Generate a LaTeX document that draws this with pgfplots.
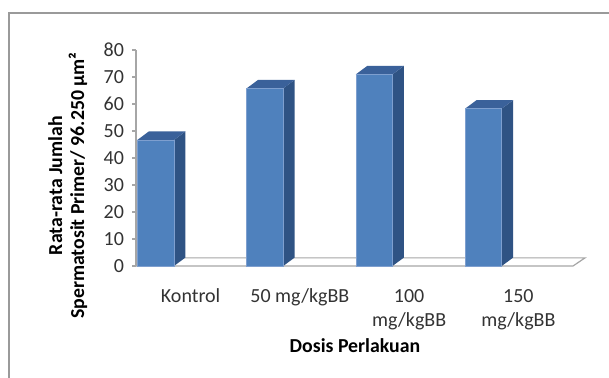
\documentclass[border=0pt]{standalone}
\usepackage{fontspec}
\setmainfont{Carlito}
\usepackage{pgfplots}
\pgfplotsset{compat=1.18}
\definecolor{barfront}{HTML}{4F81BD}
\definecolor{bartop}{HTML}{3A619A}
\definecolor{barside}{HTML}{2F5384}
\definecolor{baredge}{HTML}{7E9FCF}
\definecolor{gridgray}{HTML}{A6A6A6}
\definecolor{framegray}{HTML}{9A9A9A}
\begin{document}
\begin{tikzpicture}
\path[use as bounding box] (0,0) rectangle (304.5pt,189pt);
% chart frame (cropped at right and bottom)
\draw[framegray, line width=0.9pt] (4.5pt,0) -- (4.5pt,182.5pt) -- (305pt,182.5pt);
\begin{axis}[
  scale only axis,
  width=218.5pt, height=108pt,
  at={(68pt,56pt)}, anchor=south west,
  xmin=0, xmax=4, ymin=0, ymax=80,
  clip=false,
  axis x line*=bottom, axis y line*=left,
  x axis line style={draw=none},
  y axis line style={gridgray, line width=0.6pt},
  xtick={0.5,1.5,2.5,3.5},
  xticklabels={Kontrol,50 mg/kgBB,100\\mg/kgBB,150\\mg/kgBB},
  xtick style={draw=none},
  ytick={0,10,...,80},
  ytick style={gridgray, line width=0.6pt},
  tick align=outside,
  major tick length=2pt,
  /pgf/number format/assume math mode=true,
  ticklabel style={font=\fontsize{10}{12.2}\selectfont, text=black!80},
  xticklabel style={align=center, yshift=-6pt},
  yticklabel style={xshift=-0.5pt},
  ylabel={Rata-rata Jumlah\\Spermatosit Primer/ 96.250 µm²},
  ylabel style={font=\bfseries\fontsize{9.9}{11}\selectfont, align=center,
    at={(axis description cs:-0.156,0.372)}, anchor=center},
  xlabel={Dosis Perlakuan},
  xlabel style={font=\bfseries\fontsize{9.9}{11.8}\selectfont,
    at={(axis description cs:0.501,-0.402)}, anchor=base},
]
% floor
\addplot[fill=white, draw=gridgray, line width=0.6pt] coordinates {(0,0) (4,0) (4.11,3.0) (0.11,3.0)} -- cycle;
% bar 1 (Kontrol) value 46.7
\addplot[fill=barside, draw=none] coordinates {(0.348,0) (0.453,3.15) (0.453,49.85) (0.348,46.7)} -- cycle;
\addplot[fill=bartop, draw=none] coordinates {(0.013,46.7) (0.348,46.7) (0.453,49.85) (0.118,49.85)} -- cycle;
\addplot[fill=barfront, draw=baredge, line width=0.3pt] coordinates {(0.013,0) (0.348,0) (0.348,46.7) (0.013,46.7)} -- cycle;
% bar 2 (50 mg/kgBB) value 65.8
\addplot[fill=barside, draw=none] coordinates {(1.348,0) (1.453,3.15) (1.453,68.95) (1.348,65.8)} -- cycle;
\addplot[fill=bartop, draw=none] coordinates {(1.013,65.8) (1.348,65.8) (1.453,68.95) (1.118,68.95)} -- cycle;
\addplot[fill=barfront, draw=baredge, line width=0.3pt] coordinates {(1.013,0) (1.348,0) (1.348,65.8) (1.013,65.8)} -- cycle;
% bar 3 (100 mg/kgBB) value 71.0
\addplot[fill=barside, draw=none] coordinates {(2.348,0) (2.453,3.15) (2.453,74.15) (2.348,71.0)} -- cycle;
\addplot[fill=bartop, draw=none] coordinates {(2.013,71.0) (2.348,71.0) (2.453,74.15) (2.118,74.15)} -- cycle;
\addplot[fill=barfront, draw=baredge, line width=0.3pt] coordinates {(2.013,0) (2.348,0) (2.348,71.0) (2.013,71.0)} -- cycle;
% bar 4 (150 mg/kgBB) value 58.3
\addplot[fill=barside, draw=none] coordinates {(3.348,0) (3.453,3.15) (3.453,61.45) (3.348,58.3)} -- cycle;
\addplot[fill=bartop, draw=none] coordinates {(3.013,58.3) (3.348,58.3) (3.453,61.45) (3.118,61.45)} -- cycle;
\addplot[fill=barfront, draw=baredge, line width=0.3pt] coordinates {(3.013,0) (3.348,0) (3.348,58.3) (3.013,58.3)} -- cycle;
\end{axis}
\end{tikzpicture}
\end{document}
